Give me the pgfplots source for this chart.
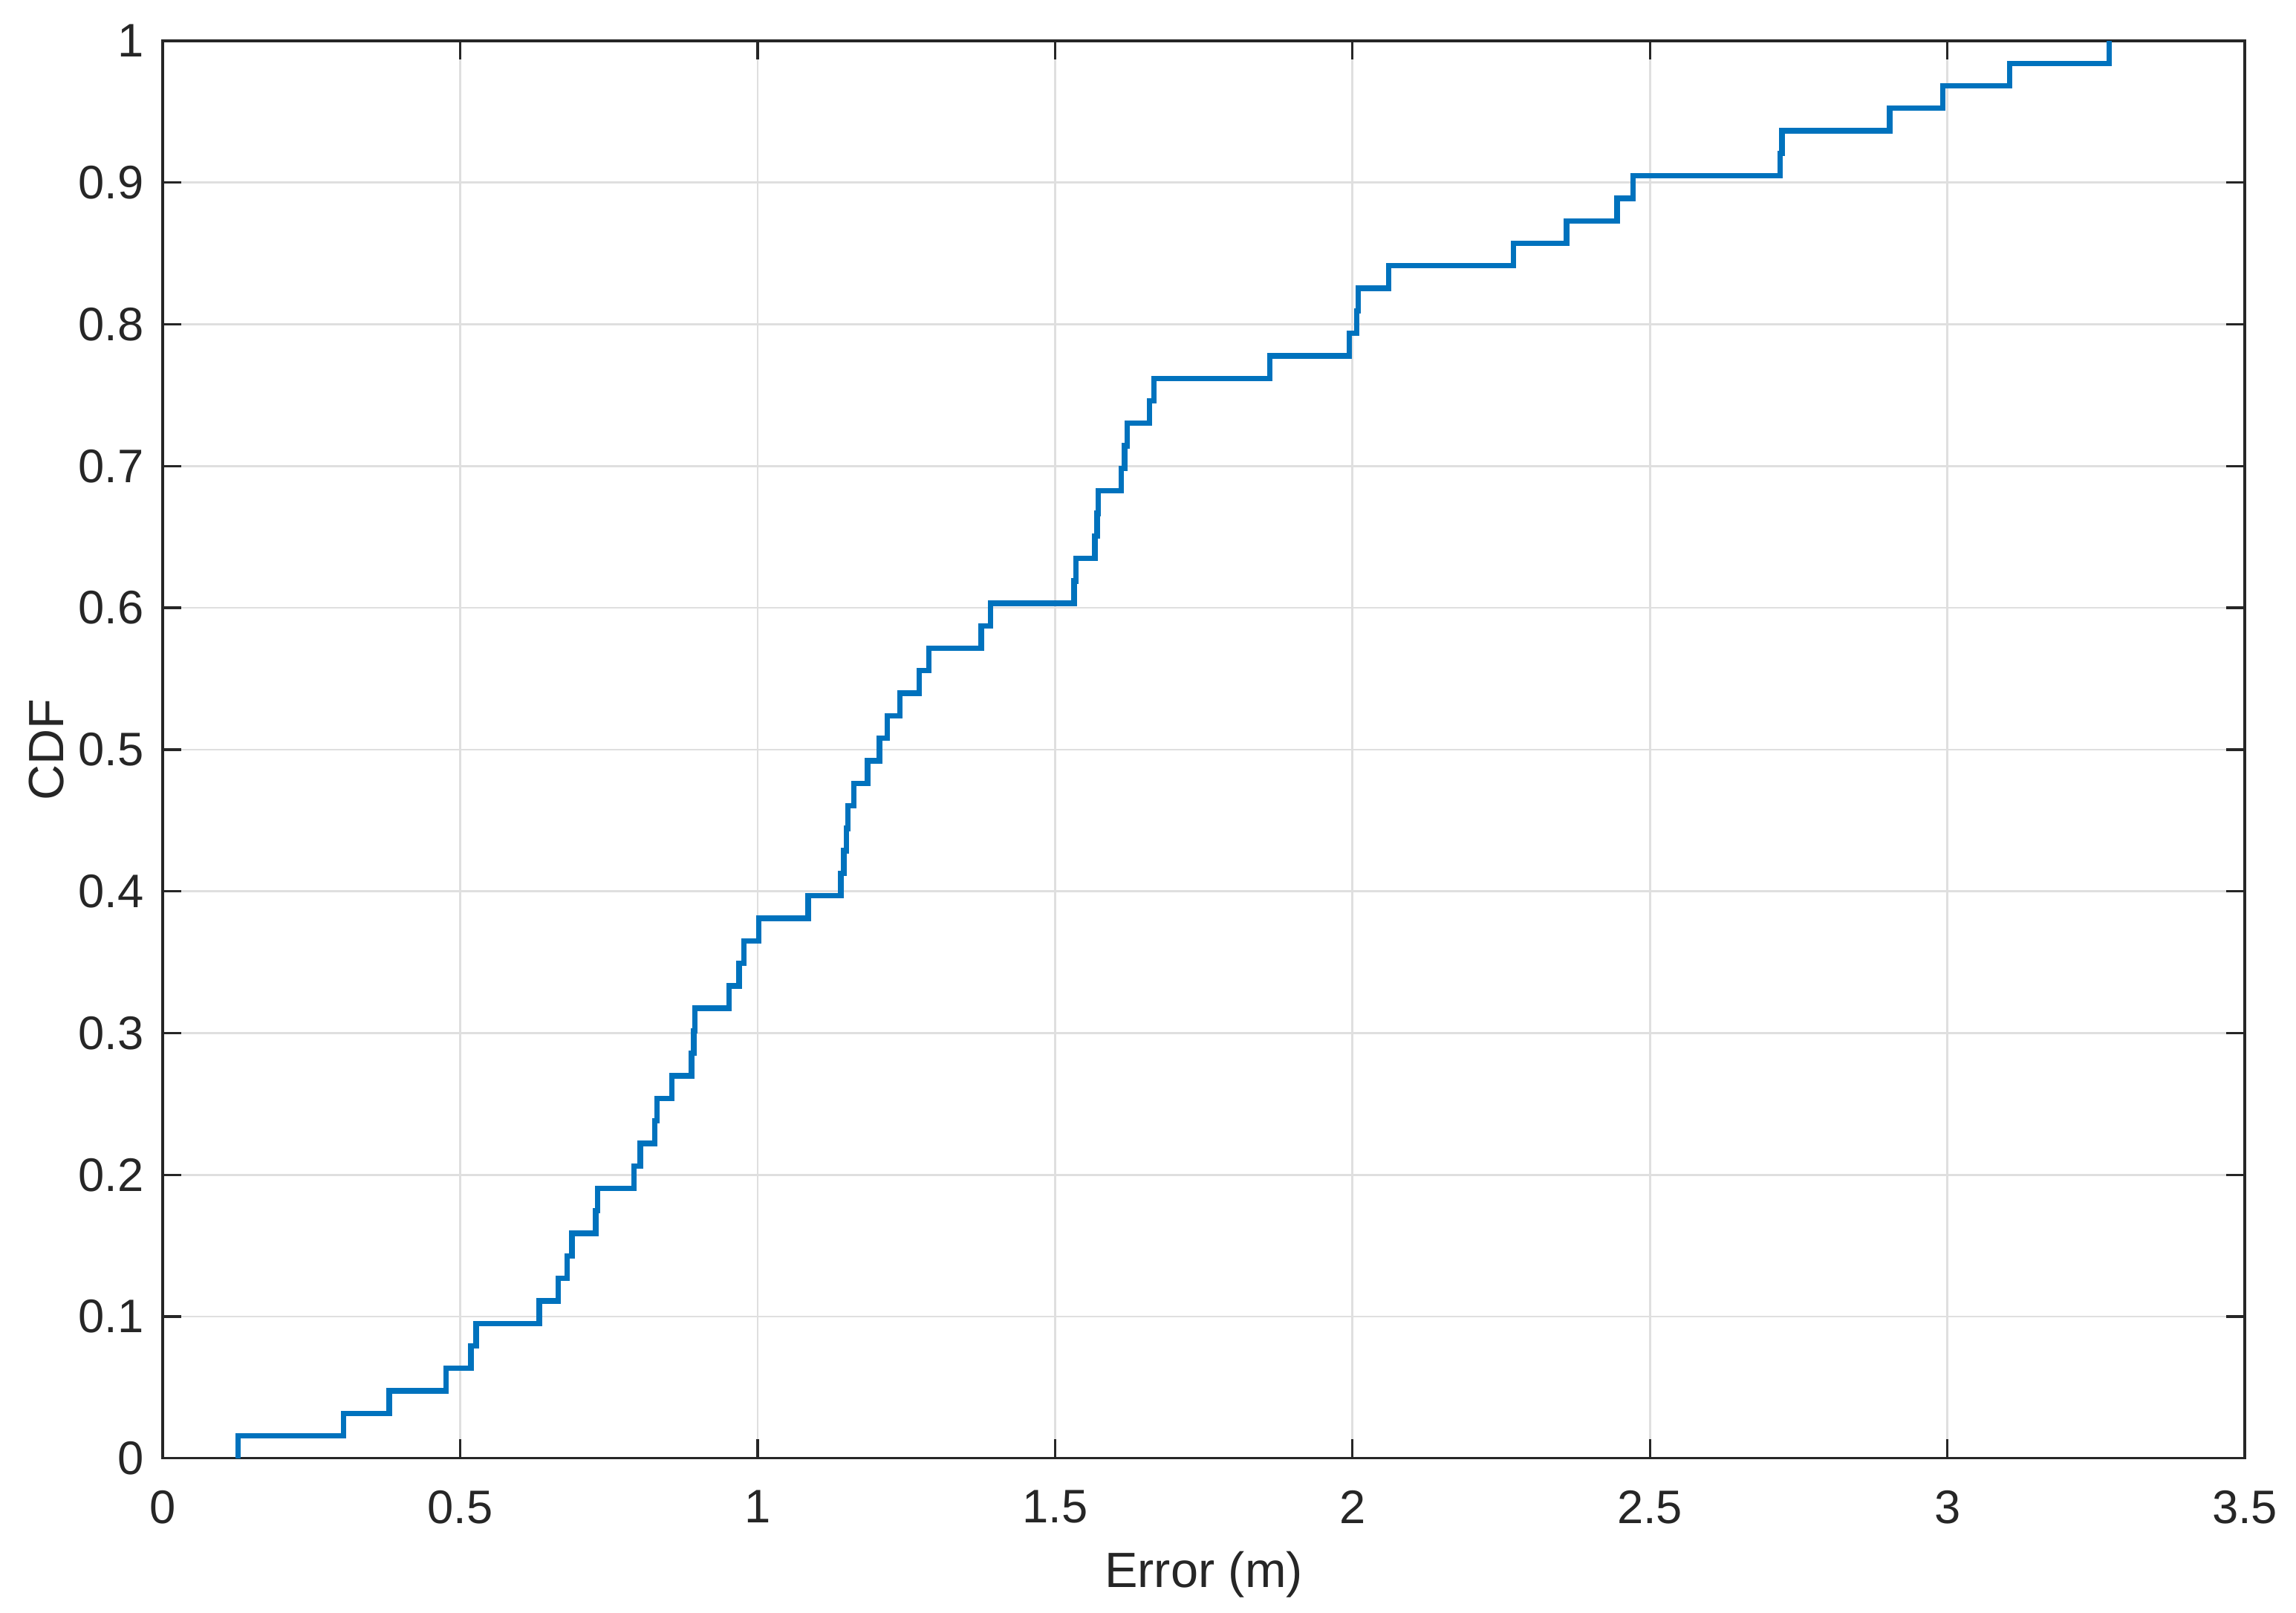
\documentclass[border=0pt]{standalone}
\usepackage{fontspec}
\setmainfont{Liberation Sans}
\usepackage{pgfplots}
\pgfplotsset{compat=1.18}
\definecolor{mlblue}{RGB}{0,114,189}
\definecolor{axgray}{RGB}{38,38,38}
\definecolor{gridgray}{RGB}{223,223,223}

\begin{document}
\begin{tikzpicture}
\begin{axis}[
    name=ax,
    scale only axis,
    width=420.5pt, height=286.2pt,
    xmin=0, xmax=3.5, ymin=0, ymax=1,
    xtick={0,0.5,...,3.5},
    ytick={0,0.1,...,1},
    grid=major,
    major grid style={gridgray, line width=0.4pt},
    axis line style={axgray, line width=0.5pt},
    tick style={axgray, line width=0.5pt},
    tick align=inside,
    major tick length=3.8pt,
    /pgf/number format/assume math mode=true,
    ticklabel style={font=\fontsize{9.5}{11}\selectfont, text=axgray},
    xticklabel style={yshift=-3pt},
    yticklabel style={xshift=-0.3pt},
    label style={font=\fontsize{10}{12}\selectfont, text=axgray},
    xlabel={Error (m)},
    ylabel={CDF},
    xlabel style={at={(axis description cs:0.5,0)}, anchor=center, yshift=-23.4pt},
    ylabel style={at={(axis description cs:0,0.5)}, anchor=center, yshift=23.4pt},
]
\addplot[const plot mark left, mlblue, line width=1.1pt] coordinates {
(0.127,0)
(0.127,0.0159) (0.304,0.0317) (0.381,0.0476) (0.476,0.0635)
(0.518,0.0794) (0.527,0.0952) (0.633,0.1111) (0.665,0.1270)
(0.680,0.1429) (0.688,0.1587) (0.728,0.1746) (0.731,0.1905)
(0.7925,0.2063) (0.803,0.2222) (0.827,0.2381) (0.831,0.2540)
(0.856,0.2698) (0.889,0.2857) (0.893,0.3016) (0.895,0.3175)
(0.952,0.3333) (0.969,0.3492) (0.977,0.3651) (1.002,0.3810)
(1.085,0.3968) (1.140,0.4127) (1.145,0.4286) (1.149,0.4444)
(1.152,0.4603) (1.162,0.4762) (1.185,0.4921) (1.205,0.5079)
(1.218,0.5238) (1.239,0.5397) (1.272,0.5556) (1.288,0.5714)
(1.376,0.5873) (1.392,0.6032) (1.532,0.6190) (1.535,0.6349)
(1.567,0.6508) (1.571,0.6667) (1.573,0.6825) (1.611,0.6984)
(1.617,0.7143) (1.621,0.7302) (1.659,0.7460) (1.666,0.7619)
(1.861,0.7778) (1.995,0.7937) (2.007,0.8095) (2.010,0.8254)
(2.061,0.8413) (2.271,0.8571) (2.360,0.8730) (2.445,0.8889)
(2.472,0.9048) (2.719,0.9206) (2.722,0.9365) (2.903,0.9524)
(2.992,0.9683) (3.105,0.9841) (3.272,1.0000)
};
\end{axis}
\pgfresetboundingbox
\path[use as bounding box] ([xshift=-32.85pt,yshift=-31.2pt]ax.south west)
    rectangle ([xshift=10.35pt,yshift=8.25pt]ax.north east);
\end{tikzpicture}
\end{document}
